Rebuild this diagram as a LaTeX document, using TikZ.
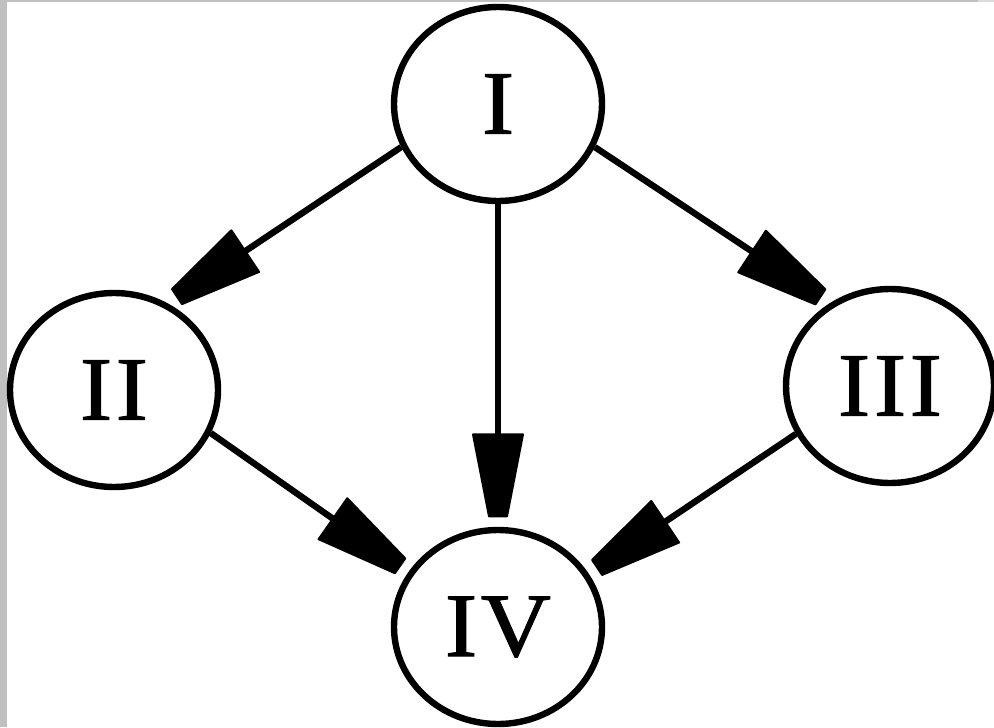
\documentclass[tikz,border=0pt]{standalone}
\usepackage{fontspec}
\setmainfont{Liberation Serif}
\newfontfamily\numfont{Liberation Serif}[FakeStretch=1.07, FakeBold=1.2, LetterSpace=4]
\usetikzlibrary{shapes.geometric,decorations.markings}
\definecolor{frame}{HTML}{C0C0C0}
\definecolor{framelt}{HTML}{D8DCDC}
\tikzset{
  state/.style={ellipse, draw, line width=4.8pt, minimum width=156pt, minimum height=145.5pt, inner sep=0pt, font=\numfont\fontsize{68}{68}\selectfont},
  ghost/.style={ellipse, minimum width=176pt, minimum height=165.5pt, inner sep=0pt},
  arr/.style={line width=4.8pt, postaction={decorate},
    decoration={markings, mark=at position 1 with {\filldraw[line width=1.5pt, line join=round] (-82,-25) -- (0,-9) -- (0,9) -- (-82,25) -- cycle;}}}
}
\begin{document}
\begin{tikzpicture}[x=0.75pt,y=-0.75pt]
\useasboundingbox (0,0) rectangle (994,727);
\fill[frame] (0,0) rectangle (994,727);
\fill[framelt] (978,0) rectangle (994,2);
\fill[white] (7,2) rectangle (994,727);
\node[state] (I) at (498,104) {I};
\node[state] (II) at (114,390) {II};
\node[state] (III) at (890,386) {III};
\node[state] (IV) at (498,627) {IV};
\node[ghost] (IIo) at (114,390) {};
\node[ghost] (IIIo) at (890,386) {};
\node[ghost] (IVo) at (498,627) {};
\draw[arr] (I.204) -- (IIo.56);
\draw[arr] (I.336) -- (IIIo.128);
\draw[arr] (I.270) -- (IVo.90);
\draw[arr] (II.336) -- (IVo.148);
\draw[arr] (III.207) -- (IVo.31);
\end{tikzpicture}
\end{document}
